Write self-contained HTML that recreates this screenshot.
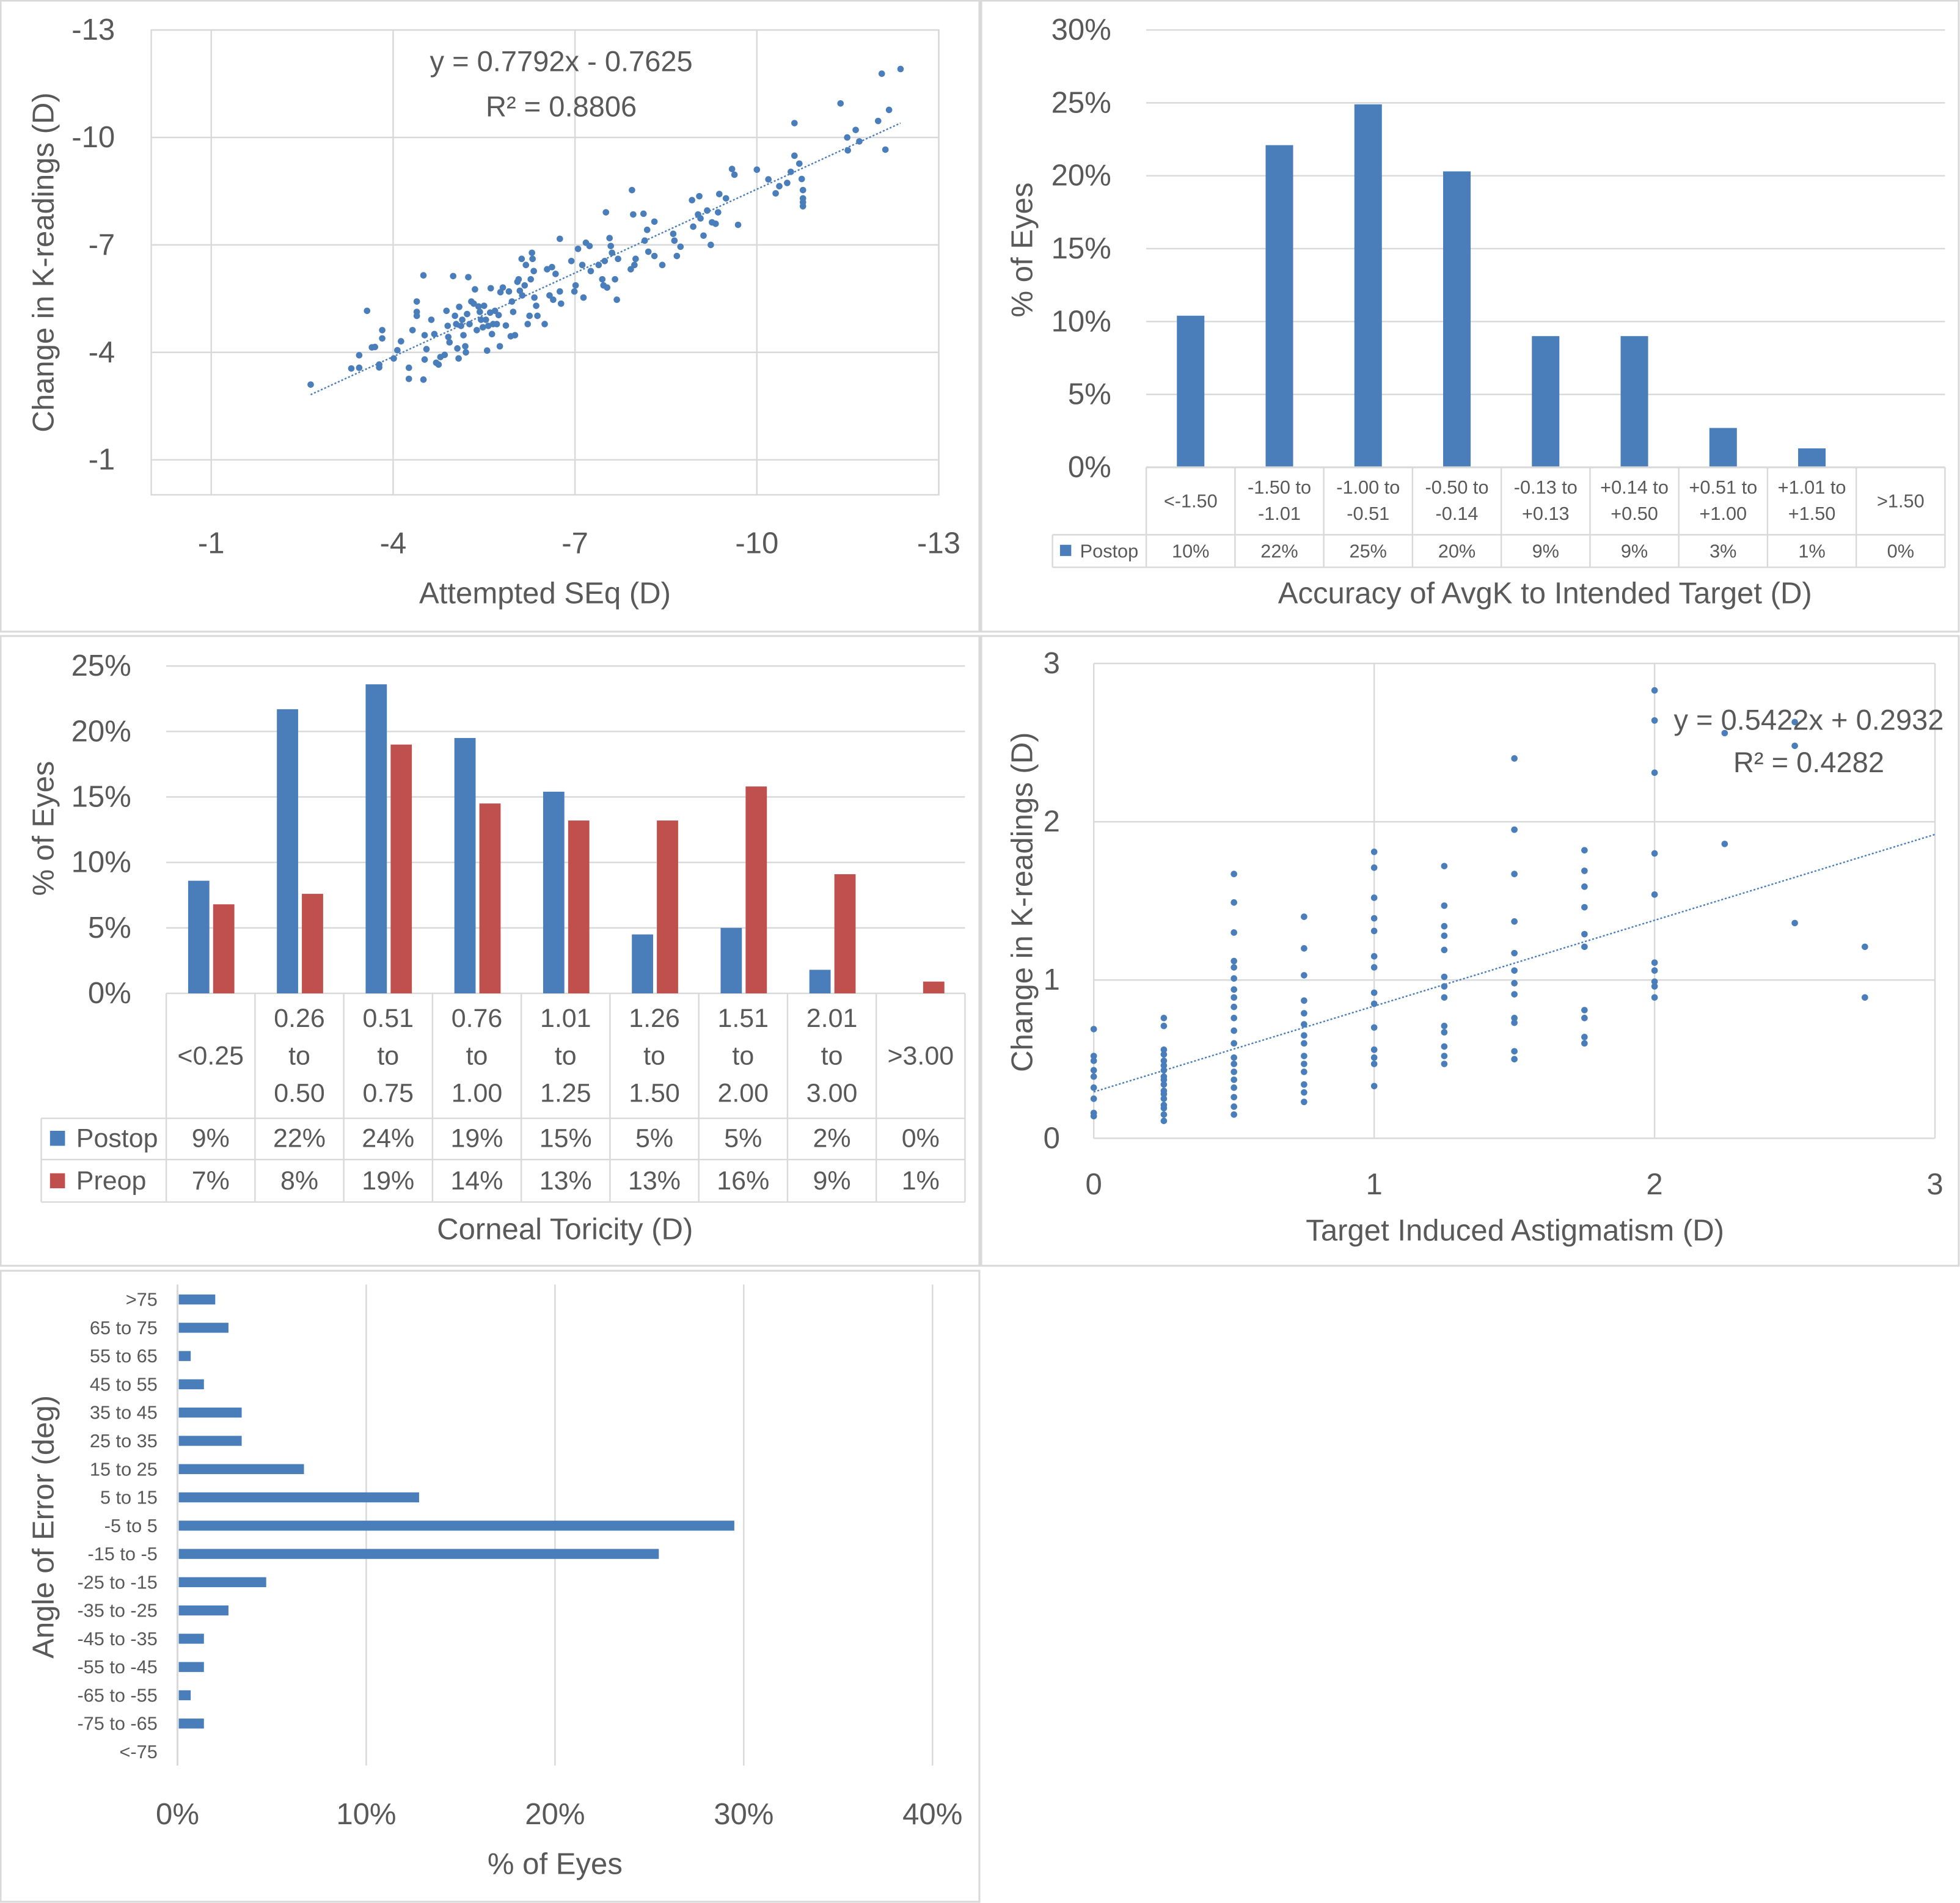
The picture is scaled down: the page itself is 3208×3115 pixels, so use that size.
<!DOCTYPE html>
<html><head><meta charset="utf-8"><style>
html,body{margin:0;padding:0;background:#fff;}
svg{display:block;font-family:"Liberation Sans",sans-serif;}
</style></head><body>
<svg id="root" xmlns="http://www.w3.org/2000/svg" width="3208" height="3115" viewBox="0 0 1568 1523" preserveAspectRatio="none">
<rect x="0" y="0" width="1568" height="1523" fill="#fff"/>
<g fill="none" stroke="#d9d9d9" stroke-width="1.5">
<rect x="0.5" y="0.5" width="783" height="505"/>
<rect x="785" y="0.5" width="782" height="505"/>
<rect x="0.5" y="509" width="783" height="504"/>
<rect x="785" y="509" width="782" height="504"/>
<rect x="0.5" y="1017" width="783" height="505"/>
</g>
</svg>
<script>
// ---------- Panel 1 data ----------
const seqX=[-2.64,-3.31,-3.44,-3.44,-3.65,-3.70,-3.77,-3.77,-3.82,-3.82,-3.57,-4.01,-4.07,-4.13,-4.26,-4.26,-4.32,-4.39,-4.39,-4.39,-4.50,-4.50,-4.52,-4.55,-4.52,-4.63,-4.68,-4.71,-4.75,-4.78,-4.85,-4.88,-4.90,-4.91,-4.93,-4.99,-5.02,-5.04,-5.06,-5.08,-5.09,-5.12,-5.14,-5.16,-5.19,-5.20,-5.22,-5.24,-5.26,-5.29,-5.33,-5.35,-5.38,-5.41,-5.43,-5.45,-5.48,-5.50,-5.53,-5.55,-5.57,-5.60,-5.61,-5.63,-5.65,-5.68,-5.71,-5.74,-5.76,-5.77,-5.81,-5.86,-5.91,-5.94,-5.96,-5.98,-6.01,-6.05,-6.07,-6.09,-6.12,-6.13,-6.17,-6.19,-6.22,-6.25,-6.27,-6.29,-6.30,-6.32,-6.33,-6.36,-6.38,-6.50,-6.54,-6.58,-6.62,-6.64,-6.68,-6.75,-6.75,-6.77,-6.94,-6.99,-7.01,-7.05,-7.12,-7.14,-7.18,-7.24,-7.26,-7.39,-7.45,-7.47,-7.49,-7.51,-7.53,-7.57,-7.59,-7.61,-7.66,-7.69,-7.71,-7.92,-7.94,-7.96,-7.98,-8.00,-8.13,-8.15,-8.19,-8.21,-8.31,-8.31,-8.44,-8.62,-8.64,-8.68,-8.74,-8.93,-8.95,-9.03,-9.05,-9.07,-9.12,-9.18,-9.24,-9.26,-9.32,-9.36,-9.38,-9.49,-9.59,-9.63,-9.69,-10.00,-10.19,-10.31,-10.37,-10.50,-10.56,-10.62,-10.62,-10.70,-10.74,-10.76,-10.76,-10.76,-10.76,-11.38,-11.49,-11.50,-11.63,-11.69,-12.00,-12.06,-12.12,-12.18,-12.37];
const seqY=[-3.10,-3.55,-3.57,-3.92,-4.14,-4.15,-3.66,-3.58,-4.39,-4.62,-5.16,-3.83,-4.06,-4.31,-3.57,-3.26,-4.62,-5.42,-5.13,-5.02,-6.15,-3.24,-3.80,-4.09,-4.48,-4.91,-4.51,-3.71,-3.66,-3.87,-3.93,-5.16,-4.74,-4.43,-4.28,-6.13,-5.02,-4.79,-4.11,-3.83,-5.27,-4.74,-4.91,-4.48,-4.17,-4.00,-5.07,-6.10,-4.79,-5.42,-5.36,-5.76,-4.62,-5.28,-5.13,-4.91,-4.70,-5.30,-4.91,-4.05,-4.74,-5.11,-5.79,-4.51,-4.79,-5.16,-4.79,-5.04,-4.17,-5.68,-5.81,-4.75,-5.70,-4.45,-5.42,-5.13,-4.48,-5.97,-6.04,-5.72,-6.61,-5.59,-5.87,-6.44,-4.79,-5.02,-6.04,-6.78,-6.61,-6.27,-5.53,-5.30,-5.02,-4.79,-6.32,-5.59,-6.38,-5.47,-6.19,-7.17,-5.70,-5.36,-6.55,-5.70,-5.87,-6.89,-6.44,-5.53,-7.06,-6.97,-6.27,-6.44,-6.04,-5.87,-6.55,-7.91,-5.81,-7.19,-6.97,-6.78,-6.04,-5.47,-6.61,-6.32,-8.53,-7.85,-6.44,-6.61,-7.87,-7.12,-7.42,-6.81,-7.65,-6.69,-6.44,-7.31,-7.12,-6.69,-6.95,-8.25,-7.51,-7.85,-8.36,-7.74,-7.26,-7.96,-7.00,-7.63,-7.59,-7.91,-8.42,-8.30,-9.12,-8.96,-7.56,-9.10,-8.83,-8.44,-8.64,-8.73,-9.04,-9.49,-10.40,-9.27,-8.84,-8.53,-8.30,-8.19,-8.08,-10.95,-10.00,-9.64,-10.21,-9.89,-10.46,-11.78,-9.66,-10.77,-11.91];
const seqTicks=[-1,-4,-7,-10,-13];
const seqSlope=0.7792, seqIntercept=-0.7625;
// ---------- Panel 2 data ----------
const accCats=[["<-1.50"],["-1.50 to","-1.01"],["-1.00 to","-0.51"],["-0.50 to","-0.14"],["-0.13 to","+0.13"],["+0.14 to","+0.50"],["+0.51 to","+1.00"],["+1.01 to","+1.50"],[">1.50"]];
const accVals=[10.4,22.1,24.9,20.3,9.0,9.0,2.7,1.3,0];
const accLabels=["10%","22%","25%","20%","9%","9%","3%","1%","0%"];
const accTicks=[0,5,10,15,20,25,30];
// ---------- Panel 3 data ----------
const torCats=[["<0.25"],["0.26","to","0.50"],["0.51","to","0.75"],["0.76","to","1.00"],["1.01","to","1.25"],["1.26","to","1.50"],["1.51","to","2.00"],["2.01","to","3.00"],[">3.00"]];
const torPost=[8.6,21.7,23.6,19.5,15.4,4.5,5.0,1.8,0];
const torPre=[6.8,7.6,19.0,14.5,13.2,13.2,15.8,9.1,0.9];
const torPostLbl=["9%","22%","24%","19%","15%","5%","5%","2%","0%"];
const torPreLbl=["7%","8%","19%","14%","13%","13%","16%","9%","1%"];
const torTicks=[0,5,10,15,20,25];
// ---------- Panel 4 data ----------
const tiaX=[0,0,0,0,0,0,0,0,0,
.25,.25,.25,.25,.25,.25,.25,.25,.25,.25,.25,.25,.25,.25,.25,.25,.25,
.5,.5,.5,.5,.5,.5,.5,.5,.5,.5,.5,.5,.5,.5,.5,.5,.5,.5,.5,.5,
.75,.75,.75,.75,.75,.75,.75,.75,.75,.75,.75,.75,.75,.75,
1,1,1,1,1,1,1,1,1,1,1,1,1,1,
1.25,1.25,1.25,1.25,1.25,1.25,1.25,1.25,1.25,1.25,1.25,1.25,1.25,
1.5,1.5,1.5,1.5,1.5,1.5,1.5,1.5,1.5,1.5,1.5,1.5,
1.75,1.75,1.75,1.75,1.75,1.75,1.75,1.75,1.75,1.75,
2,2,2,2,2,2,2,2,2,2,
2.25,2.25,2.5,2.5,2.5,2.75,2.75];
const tiaY=[0.69,0.52,0.49,0.43,0.39,0.32,0.25,0.16,0.14,
0.76,0.71,0.56,0.53,0.49,0.46,0.43,0.39,0.37,0.34,0.30,0.28,0.25,0.21,0.19,0.15,0.11,
1.67,1.49,1.30,1.12,1.08,1.01,0.94,0.89,0.83,0.76,0.68,0.60,0.51,0.47,0.42,0.37,0.32,0.26,0.20,0.15,
1.40,1.20,1.03,0.87,0.79,0.72,0.65,0.60,0.52,0.47,0.42,0.34,0.29,0.23,
1.81,1.71,1.52,1.39,1.31,1.15,1.08,0.92,0.85,0.70,0.56,0.51,0.47,0.33,
1.72,1.47,1.34,1.28,1.19,1.02,0.96,0.89,0.71,0.67,0.58,0.52,0.47,
2.40,1.95,1.67,1.37,1.17,1.06,0.98,0.91,0.76,0.73,0.55,0.50,
1.82,1.69,1.59,1.46,1.29,1.21,0.81,0.76,0.64,0.60,
2.83,2.64,2.31,1.80,1.54,1.11,1.06,0.99,0.96,0.89,
2.56,1.86,2.63,2.48,1.36,1.21,0.89];
const tiaTicks=[0,1,2,3];
const tiaSlope=0.5422, tiaIntercept=0.2932;
// ---------- Panel 5 data ----------
const angCats=[">75","65 to 75","55 to 65","45 to 55","35 to 45","25 to 35","15 to 25","5 to 15","-5 to 5","-15 to -5","-25 to -15","-35 to -25","-45 to -35","-55 to -45","-65 to -55","-75 to -65","<-75"];
const angVals=[2.0,2.7,0.7,1.4,3.4,3.4,6.7,12.8,29.5,25.5,4.7,2.7,1.4,1.4,0.7,1.4,0];
const angTicks=[0,10,20,30,40];

const NS="http://www.w3.org/2000/svg";
const root=document.getElementById('root');
const BLUE="#4a7ebb", RED="#c0504d", TXT="#595959", GRID="#d9d9d9";
function mk(tag,attrs,parent){const e=document.createElementNS(NS,tag);for(const k in attrs)e.setAttribute(k,attrs[k]);(parent||root).appendChild(e);return e;}
function txt(s,x,y,size,anchor,parent,extra){const e=mk('text',Object.assign({x:x,y:y,'font-size':size,'text-anchor':anchor||'middle','dominant-baseline':'central',fill:TXT},extra||{}),parent);e.textContent=s;return e;}

// ===== Panel 1 =====
(function(){
const X=v=>169+(-v-1)*48.5, Y=v=>368-(-v-1)*28.667;
const g=mk('g',{});


seqTicks.forEach(t=>{
 const h=mk('line',{x1:121,x2:751,y1:Y(t),y2:Y(t),stroke:GRID,'stroke-width':1.2},g);
 
 
 const v=mk('line',{x1:X(t),x2:X(t),y1:24,y2:396,stroke:GRID,'stroke-width':1.2},g);
 
 
 const yl=txt(String(t),92,Y(t),24,'end',g);
 
 
 const xl=txt(String(t),X(t),435,24,'middle',g);
 
 
});
const fr=mk('rect',{x:121,y:24,width:630,height:372,fill:'none',stroke:GRID,'stroke-width':1.2},g);


seqX.forEach((x,i)=>{
 const c=mk('circle',{cx:X(x),cy:Y(seqY[i]),r:2.6,fill:BLUE},g);
 
 
});
const xmin=Math.max(...seqX), xmax=Math.min(...seqX);
const tl=mk('line',{x1:X(xmin),y1:Y(seqSlope*xmin+seqIntercept),x2:X(xmax),y2:Y(seqSlope*xmax+seqIntercept),stroke:BLUE,'stroke-width':1.2,'stroke-dasharray':'1.5 1.5'},g);


const e1=txt('y = 0.7792x - 0.7625',449,49,23,'middle',g);


const e2=txt('R² = 0.8806',449,85,23,'middle',g);


const xt=txt('Attempted SEq (D)',436,475,24,'middle',g);


const yt=txt('Change in K-readings (D)',35,210,24,'middle',g,{transform:'rotate(-90 35 210)'});


})();

// ===== Panel 2 =====
(function(){
const L=917,R=1556,W=(R-L)/accVals.length;
const Y=v=>374-v*11.667;
const g=mk('g',{});


accTicks.forEach(t=>{
 const h=mk('line',{x1:L,x2:R,y1:Y(t),y2:Y(t),stroke:GRID,'stroke-width':1.2},g);
 
 
 const yl=txt(t+'%',889,Y(t),24,'end',g);
 
 
});
accVals.forEach((v,i)=>{
 const cx=L+W*(i+0.5);
 const b=mk('rect',{x:cx-11,y:Y(v),width:22,height:374-Y(v),fill:BLUE},g);
 
 
 const lines=accCats[i];
 lines.forEach((s,j)=>{
  const yy=lines.length===1?401:390+j*21;
  const t=txt(s,cx,yy,15,'middle',g);
  
  
 });
 const dv=txt(accLabels[i],cx,441,15,'middle',g);
 
 
});
// table grid
for(let i=0;i<=accVals.length;i++){
 const x=L+W*i;
 const l=mk('line',{x1:x,x2:x,y1:374,y2:454,stroke:GRID,'stroke-width':1.2},g);
 
 
}
[[L,428],[842,428],[842,454]].forEach(()=>{});
const hl1=mk('line',{x1:842,x2:R,y1:428,y2:428,stroke:GRID,'stroke-width':1.2},g);


const hl2=mk('line',{x1:842,x2:R,y1:454,y2:454,stroke:GRID,'stroke-width':1.2},g);


const vl=mk('line',{x1:842,x2:842,y1:428,y2:454,stroke:GRID,'stroke-width':1.2},g);


const ax=mk('line',{x1:L,x2:R,y1:374,y2:374,stroke:GRID,'stroke-width':1.5},g);


const key=mk('rect',{x:848,y:436,width:9,height:9,fill:BLUE},g);


const kt=txt('Postop',864,441,15,'start',g);


const xt=txt('Accuracy of AvgK to Intended Target (D)',1236,475,24,'middle',g);


const yt=txt('% of Eyes',818,200,24,'middle',g,{transform:'rotate(-90 818 200)'});


})();

// ===== Panel 3 =====
(function(){
const L=133,R=772,W=(R-L)/torPost.length;
const Y=v=>795-v*10.48;
const g=mk('g',{});


torTicks.forEach(t=>{
 const h=mk('line',{x1:L,x2:R,y1:Y(t),y2:Y(t),stroke:GRID,'stroke-width':1.2},g);
 
 
 const yl=txt(t+'%',105,Y(t),24,'end',g);
 
 
});
torPost.forEach((v,i)=>{
 const cx=L+W*(i+0.5);
 const b=mk('rect',{x:cx-18,y:Y(v),width:17,height:795-Y(v),fill:BLUE},g);
 
 
 const r=mk('rect',{x:cx+2,y:Y(torPre[i]),width:17,height:795-Y(torPre[i]),fill:RED},g);
 
 
 const lines=torCats[i];
 lines.forEach((s,j)=>{
  const yy=lines.length===1?845:815+j*30;
  const t=txt(s,cx,yy,21,'middle',g);
  
  
 });
 const a=txt(torPostLbl[i],cx,911,21,'middle',g);
 
 
 const b2=txt(torPreLbl[i],cx,945,21,'middle',g);
 
 
});
for(let i=0;i<=torPost.length;i++){
 const x=L+W*i;
 const l=mk('line',{x1:x,x2:x,y1:795,y2:962,stroke:GRID,'stroke-width':1.2},g);
 
 
}
[895,928,962].forEach(yy=>{
 const l=mk('line',{x1:33,x2:R,y1:yy,y2:yy,stroke:GRID,'stroke-width':1.2},g);
 
 
});
const vl=mk('line',{x1:33,x2:33,y1:895,y2:962,stroke:GRID,'stroke-width':1.2},g);


const k1=mk('rect',{x:40,y:905,width:12,height:12,fill:BLUE},g);


const t1=txt('Postop',61,911,21,'start',g);


const k2=mk('rect',{x:40,y:939,width:12,height:12,fill:RED},g);


const t2=txt('Preop',61,945,21,'start',g);


const xt=txt('Corneal Toricity (D)',452,984,24,'middle',g);


const yt=txt('% of Eyes',35,663,24,'middle',g,{transform:'rotate(-90 35 663)'});


})();

// ===== Panel 4 =====
(function(){
const X=v=>875+v*224.33, Y=v=>911-v*126.67;
const g=mk('g',{});


tiaTicks.forEach(t=>{
 const h=mk('line',{x1:875,x2:1548,y1:Y(t),y2:Y(t),stroke:GRID,'stroke-width':1.2},g);
 
 
 const v=mk('line',{x1:X(t),x2:X(t),y1:531,y2:911,stroke:GRID,'stroke-width':1.2},g);
 
 
 const yl=txt(String(t),848,Y(t),24,'end',g);
 
 
 const xl=txt(String(t),X(t),948,24,'middle',g);
 
 
});
tiaX.forEach((x,i)=>{
 const c=mk('circle',{cx:X(x),cy:Y(tiaY[i]),r:2.6,fill:BLUE},g);
 
 
});
const tl=mk('line',{x1:X(0),y1:Y(tiaIntercept),x2:X(3),y2:Y(tiaSlope*3+tiaIntercept),stroke:BLUE,'stroke-width':1.2,'stroke-dasharray':'1.5 1.5'},g);


const e1=txt('y = 0.5422x + 0.2932',1447,576,23,'middle',g);


const e2=txt('R² = 0.4282',1447,610,23,'middle',g);


const xt=txt('Target Induced Astigmatism (D)',1212,985,24,'middle',g);


const yt=txt('Change in K-readings (D)',818,722,24,'middle',g,{transform:'rotate(-90 818 722)'});


})();

// ===== Panel 5 =====
(function(){
const X=v=>142+v*15.1;
const Yc=i=>1040+i*22.625;
const g=mk('g',{});


angTicks.forEach(t=>{
 if(t>0){
  const v=mk('line',{x1:X(t),x2:X(t),y1:1028,y2:1413,stroke:GRID,'stroke-width':1.2},g);
  
  
 }
 const xl=txt(t+'%',X(t),1452,24,'middle',g);
 
 
});
const ax=mk('line',{x1:142,x2:142,y1:1028,y2:1413,stroke:GRID,'stroke-width':1.5},g);


angVals.forEach((v,i)=>{
 const b=mk('rect',{x:143,y:Yc(i)-4,width:Math.max(0,X(v)-143),height:8,fill:BLUE},g);
 
 
 const t=txt(angCats[i],126,Yc(i),15,'end',g);
 
 
});
const xt=txt('% of Eyes',444,1492,24,'middle',g);


const yt=txt('Angle of Error (deg)',35,1222,24,'middle',g,{transform:'rotate(-90 35 1222)'});


})();
</script>
</body></html>
